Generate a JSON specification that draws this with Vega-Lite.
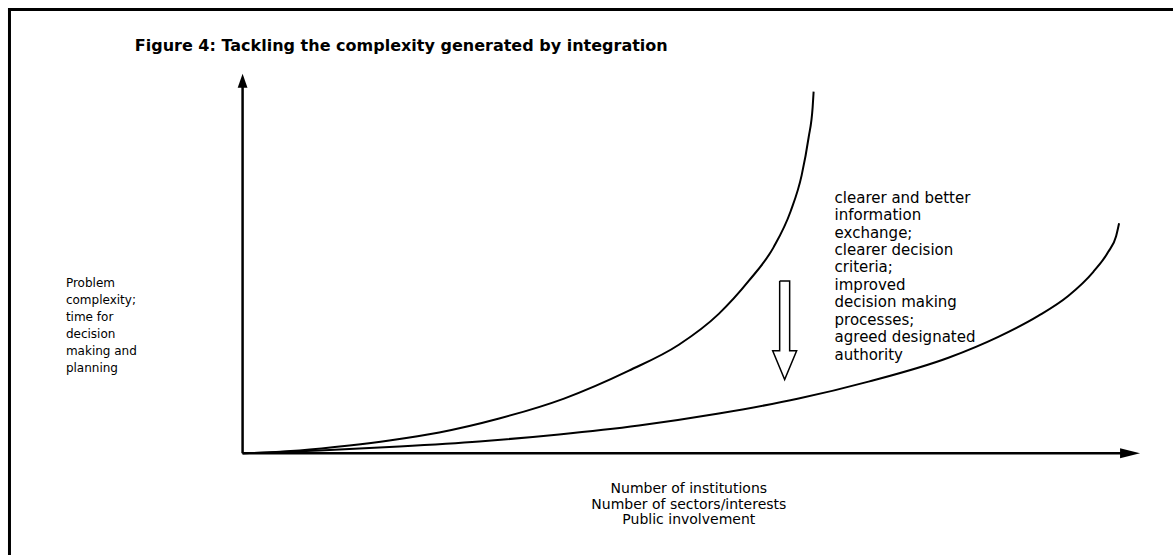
{
  "$schema": "https://vega.github.io/schema/vega-lite/v6.json",
  "width": 1175,
  "height": 557,
  "padding": 0,
  "autosize": {"type": "fit", "contains": "padding"},
  "background": "white",
  "config": {"view": {"stroke": null}},
  "datasets": {
    "segments": [
      {"part": "frame", "x": 8, "y": 9.5, "x2": 1175, "y2": 9.5},
      {"part": "frame", "x": 9.5, "y": 8, "x2": 9.5, "y2": 557},
      {"part": "axis", "x": 243, "y": 455, "x2": 243, "y2": 82},
      {"part": "axis", "x": 243, "y": 455, "x2": 1125, "y2": 455}
    ],
    "curves": [
      {"series": "A", "i": 0, "x": 243, "y": 455},
      {"series": "A", "i": 1, "x": 300, "y": 452},
      {"series": "A", "i": 2, "x": 350, "y": 447},
      {"series": "A", "i": 3, "x": 390, "y": 442},
      {"series": "A", "i": 4, "x": 440, "y": 434},
      {"series": "A", "i": 5, "x": 500, "y": 420},
      {"series": "A", "i": 6, "x": 565, "y": 400},
      {"series": "A", "i": 7, "x": 630, "y": 372},
      {"series": "A", "i": 8, "x": 680, "y": 346},
      {"series": "A", "i": 9, "x": 720, "y": 315},
      {"series": "A", "i": 10, "x": 750, "y": 282},
      {"series": "A", "i": 11, "x": 775, "y": 248},
      {"series": "A", "i": 12, "x": 792, "y": 212},
      {"series": "A", "i": 13, "x": 803, "y": 176},
      {"series": "A", "i": 14, "x": 810, "y": 138},
      {"series": "A", "i": 15, "x": 814, "y": 108},
      {"series": "A", "i": 16, "x": 815, "y": 92},
      {"series": "B", "i": 0, "x": 243, "y": 455},
      {"series": "B", "i": 1, "x": 320, "y": 452},
      {"series": "B", "i": 2, "x": 400, "y": 448},
      {"series": "B", "i": 3, "x": 480, "y": 443},
      {"series": "B", "i": 4, "x": 560, "y": 436},
      {"series": "B", "i": 5, "x": 640, "y": 427},
      {"series": "B", "i": 6, "x": 720, "y": 415},
      {"series": "B", "i": 7, "x": 800, "y": 400},
      {"series": "B", "i": 8, "x": 870, "y": 383},
      {"series": "B", "i": 9, "x": 950, "y": 359},
      {"series": "B", "i": 10, "x": 1000, "y": 338},
      {"series": "B", "i": 11, "x": 1040, "y": 317},
      {"series": "B", "i": 12, "x": 1070, "y": 297},
      {"series": "B", "i": 13, "x": 1095, "y": 273},
      {"series": "B", "i": 14, "x": 1110, "y": 253},
      {"series": "B", "i": 15, "x": 1118, "y": 237},
      {"series": "B", "i": 16, "x": 1121, "y": 224}
    ],
    "hollow": [
      {"i": 0, "x": 781, "y": 282},
      {"i": 1, "x": 781, "y": 352},
      {"i": 2, "x": 774, "y": 352},
      {"i": 3, "x": 786, "y": 381},
      {"i": 4, "x": 798, "y": 352},
      {"i": 5, "x": 791, "y": 352},
      {"i": 6, "x": 791, "y": 282},
      {"i": 7, "x": 781, "y": 282}
    ],
    "heads": [
      {"dir": "up", "x": 243, "y": 81},
      {"dir": "right", "x": 1132, "y": 455}
    ],
    "labels": [
      {"grp": "title", "x": 135, "y": 46, "text": "Figure 4: Tackling the complexity generated by integration"},
      {"grp": "left", "x": 66, "y": 284, "text": "Problem"},
      {"grp": "left", "x": 66, "y": 301, "text": "complexity;"},
      {"grp": "left", "x": 66, "y": 318, "text": "time for"},
      {"grp": "left", "x": 66, "y": 335, "text": "decision"},
      {"grp": "left", "x": 66, "y": 352, "text": "making and"},
      {"grp": "left", "x": 66, "y": 369, "text": "planning"},
      {"grp": "right", "x": 836, "y": 199, "text": "clearer and better"},
      {"grp": "right", "x": 836, "y": 216, "text": "information"},
      {"grp": "right", "x": 836, "y": 234, "text": "exchange;"},
      {"grp": "right", "x": 836, "y": 251, "text": "clearer decision"},
      {"grp": "right", "x": 836, "y": 268, "text": "criteria;"},
      {"grp": "right", "x": 836, "y": 286, "text": "improved"},
      {"grp": "right", "x": 836, "y": 303, "text": "decision making"},
      {"grp": "right", "x": 836, "y": 321, "text": "processes;"},
      {"grp": "right", "x": 836, "y": 338, "text": "agreed designated"},
      {"grp": "right", "x": 836, "y": 356, "text": "authority"},
      {"grp": "bottom", "x": 690, "y": 491, "text": "Number of institutions"},
      {"grp": "bottom", "x": 690, "y": 507, "text": "Number of sectors/interests"},
      {"grp": "bottom", "x": 690, "y": 522, "text": "Public involvement"}
    ]
  },
  "layer": [
    {
      "data": {"name": "segments"},
      "transform": [{"filter": "datum.part === 'frame'"}],
      "mark": {"type": "rule", "stroke": "black", "strokeWidth": 3},
      "encoding": {
        "x": {"field": "x", "type": "quantitative", "scale": {"domain": [0, 1175], "nice": false, "zero": false}, "axis": null},
        "y": {"field": "y", "type": "quantitative", "scale": {"domain": [0, 557], "nice": false, "zero": false, "reverse": true}, "axis": null},
        "x2": {"field": "x2"},
        "y2": {"field": "y2"}
      }
    },
    {
      "data": {"name": "segments"},
      "transform": [{"filter": "datum.part === 'axis'"}],
      "mark": {"type": "rule", "stroke": "black", "strokeWidth": 2.5},
      "encoding": {
        "x": {"field": "x", "type": "quantitative"},
        "y": {"field": "y", "type": "quantitative"},
        "x2": {"field": "x2"},
        "y2": {"field": "y2"}
      }
    },
    {
      "data": {"name": "heads"},
      "transform": [{"filter": "datum.dir === 'up'"}],
      "mark": {"type": "point", "shape": "M0,-1L0.7,1L-0.7,1Z", "filled": true, "color": "black", "opacity": 1, "size": 196},
      "encoding": {
        "x": {"field": "x", "type": "quantitative"},
        "y": {"field": "y", "type": "quantitative"}
      }
    },
    {
      "data": {"name": "heads"},
      "transform": [{"filter": "datum.dir === 'right'"}],
      "mark": {"type": "point", "shape": "M1,0L-1,-0.5L-1,0.5Z", "filled": true, "color": "black", "opacity": 1, "size": 400},
      "encoding": {
        "x": {"field": "x", "type": "quantitative"},
        "y": {"field": "y", "type": "quantitative"}
      }
    },
    {
      "data": {"name": "curves"},
      "mark": {"type": "line", "color": "black", "strokeWidth": 2, "interpolate": "monotone"},
      "encoding": {
        "x": {"field": "x", "type": "quantitative"},
        "y": {"field": "y", "type": "quantitative"},
        "detail": {"field": "series"},
        "order": {"field": "i", "type": "quantitative"}
      }
    },
    {
      "data": {"name": "hollow"},
      "mark": {"type": "line", "color": "black", "strokeWidth": 1.5, "strokeJoin": "miter"},
      "encoding": {
        "x": {"field": "x", "type": "quantitative"},
        "y": {"field": "y", "type": "quantitative"},
        "order": {"field": "i", "type": "quantitative"}
      }
    },
    {
      "data": {"name": "labels"},
      "transform": [{"filter": "datum.grp === 'title'"}],
      "mark": {"type": "text", "align": "left", "baseline": "middle", "font": "DejaVu Sans", "fontWeight": "bold", "fontSize": 16, "color": "black"},
      "encoding": {
        "x": {"field": "x", "type": "quantitative"},
        "y": {"field": "y", "type": "quantitative"},
        "text": {"field": "text"}
      }
    },
    {
      "data": {"name": "labels"},
      "transform": [{"filter": "datum.grp === 'left'"}],
      "mark": {"type": "text", "align": "left", "baseline": "middle", "font": "DejaVu Sans", "fontSize": 12, "color": "black"},
      "encoding": {
        "x": {"field": "x", "type": "quantitative"},
        "y": {"field": "y", "type": "quantitative"},
        "text": {"field": "text"}
      }
    },
    {
      "data": {"name": "labels"},
      "transform": [{"filter": "datum.grp === 'right'"}],
      "mark": {"type": "text", "align": "left", "baseline": "middle", "font": "DejaVu Sans", "fontSize": 15, "color": "black"},
      "encoding": {
        "x": {"field": "x", "type": "quantitative"},
        "y": {"field": "y", "type": "quantitative"},
        "text": {"field": "text"}
      }
    },
    {
      "data": {"name": "labels"},
      "transform": [{"filter": "datum.grp === 'bottom'"}],
      "mark": {"type": "text", "align": "center", "baseline": "middle", "font": "DejaVu Sans", "fontSize": 14, "color": "black"},
      "encoding": {
        "x": {"field": "x", "type": "quantitative"},
        "y": {"field": "y", "type": "quantitative"},
        "text": {"field": "text"}
      }
    }
  ]
}
